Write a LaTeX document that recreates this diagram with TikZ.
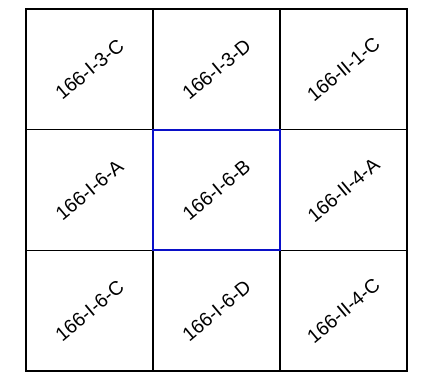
\documentclass[tikz,border=0pt]{standalone}
\usepackage{fontspec}
\setmainfont{Liberation Sans}
\usepackage{tikz}
\usetikzlibrary{positioning}
\definecolor{selc}{HTML}{0A10C8}

\begin{document}
\begin{tikzpicture}[x=1pt, y=1pt,
  cell/.style={draw, minimum width=127pt, minimum height=120.67pt, inner sep=0pt, line width=1.3pt},
  sheet/.style={font=\fontsize{19.5}{22}\selectfont, rotate=40, inner sep=0pt}]
  \useasboundingbox (0,0) rectangle (423,389);
  \foreach \w [count=\i from 0] in {166-I-3-C,166-I-3-D,166-II-1-C,166-I-6-A,166-I-6-B,166-II-4-A,166-I-6-C,166-I-6-D,166-II-4-C}{
     \pgfmathtruncatemacro\col{mod(\i,3)}
     \pgfmathtruncatemacro\row{div(\i,3)}
     \node[cell] (cell\i) at ({89.5+127*\col},{319.67-120.67*\row}) {};
     \node[sheet] (name\i) at (cell\i.center) {\w};}
  \node[cell, draw=selc, line width=2pt] (sel) at (cell4.center) {};
\end{tikzpicture}
\end{document}
